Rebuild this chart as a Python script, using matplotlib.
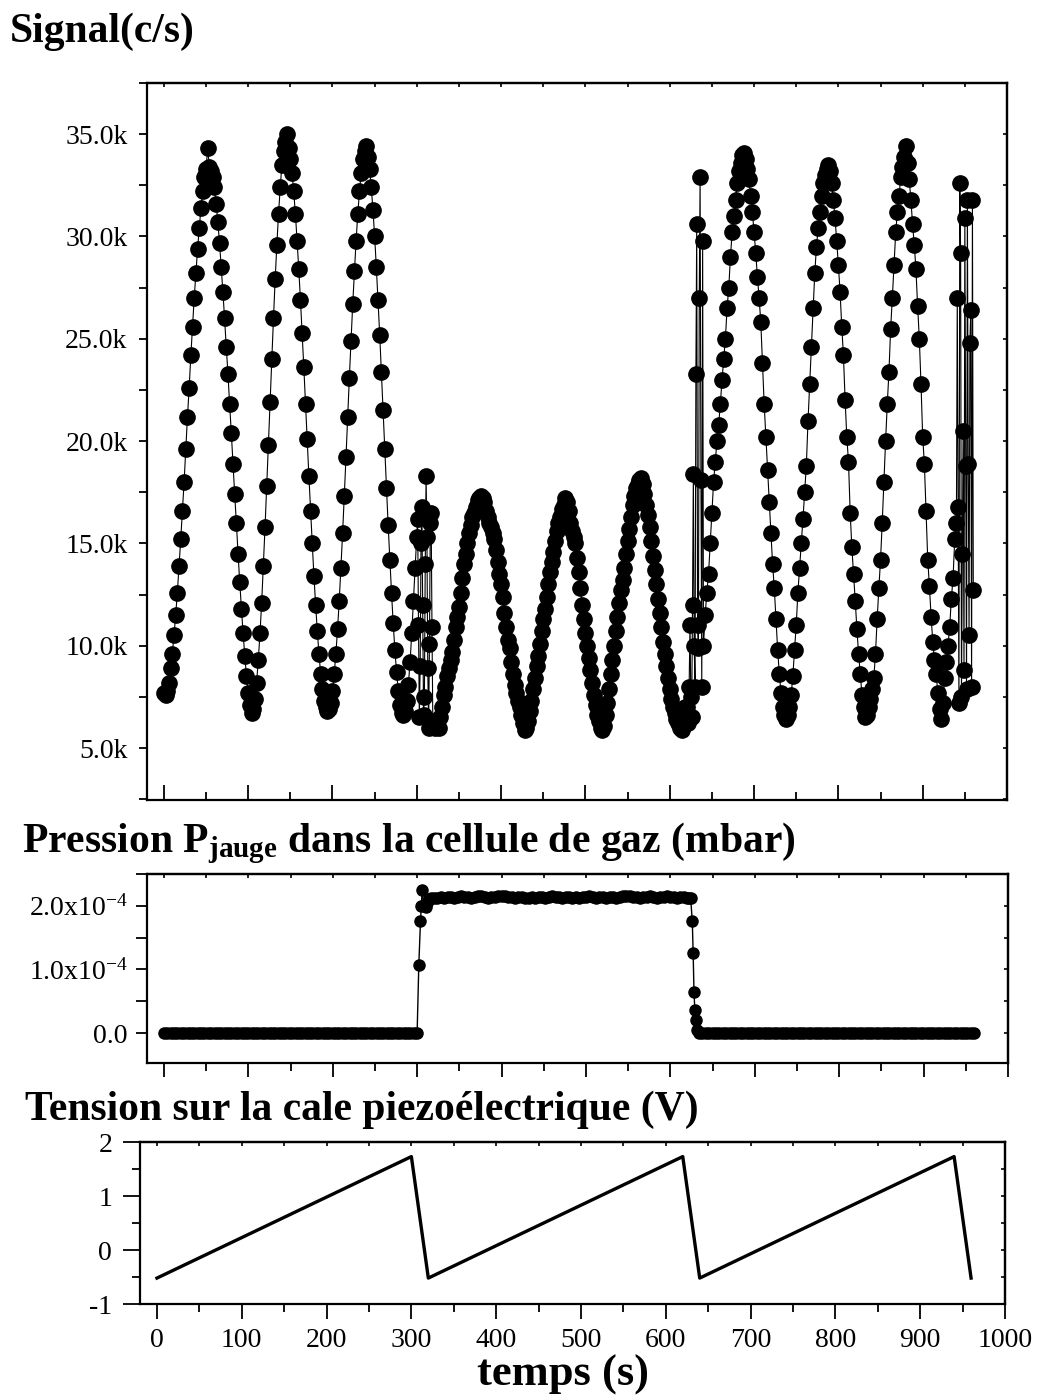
import numpy as np
import matplotlib.pyplot as plt
from matplotlib.ticker import MultipleLocator, FuncFormatter, NullFormatter

plt.rcParams['font.family'] = 'Liberation Serif'
plt.rcParams['mathtext.fontset'] = 'custom'
plt.rcParams['mathtext.rm'] = 'Liberation Serif'
plt.rcParams['mathtext.bf'] = 'Liberation Serif:bold'
plt.rcParams['mathtext.it'] = 'Liberation Serif:italic'
plt.rcParams['axes.unicode_minus'] = False

# --------------------------
# Signal (in k c/s) - ramps every 2 s, fly-backs every 1 s
# --------------------------
sig_ramp1 = [7.7, 7.6, 7.8, 8.2, 8.9, 9.6, 10.5, 11.5, 12.6, 13.9,
             15.2, 16.6, 18.0, 19.6, 21.2, 22.6, 24.2, 25.6, 27.0, 28.2,
             29.4, 30.4, 31.4, 32.2, 32.9, 33.3, 34.3, 33.4, 33.2, 32.9,
             32.4, 31.6, 30.7, 29.7, 28.5, 27.3, 26.0, 24.6, 23.3, 21.8,
             20.4, 18.9, 17.4, 16.0, 14.5, 13.1, 11.8, 10.6, 9.5, 8.5,
             7.7, 7.1, 6.7, 6.9, 7.4, 8.2, 9.3, 10.6, 12.1, 13.9,
             15.8, 17.8, 19.8, 21.9, 24.0, 26.0, 27.9, 29.6, 31.1, 32.4,
             33.5, 34.2, 34.6, 35.0, 34.3, 33.8, 33.1, 32.2, 31.1, 29.8,
             28.4, 26.9, 25.3, 23.6, 21.8, 20.1, 18.3, 16.6, 15.0, 13.4,
             12.0, 10.7, 9.6, 8.6, 7.9, 7.3, 7.0, 6.8, 6.9, 7.2,
             7.8, 8.6, 9.6, 10.8, 12.2, 13.8, 15.5, 17.3, 19.2, 21.2,
             23.1, 24.9, 26.7, 28.3, 29.8, 31.1, 32.2, 33.1, 33.8, 34.2,
             34.4, 33.9, 33.3, 32.4, 31.3, 30.0, 28.5, 26.9, 25.2, 23.4,
             21.5, 19.6, 17.7, 15.9, 14.2, 12.6, 11.1, 9.8, 8.7, 7.8,
             7.1, 6.7, 6.6, 6.8, 7.3, 8.1, 9.2, 10.6, 12.2, 13.8]
sig_fly1 = [15.3, 16.2, 11.0, 6.5, 9.0, 15.0, 16.8, 12.0, 6.6, 7.5,
            14.0, 18.3, 15.3, 8.9, 6.0, 10.1, 16.0, 16.5, 10.9, 6.2]
sig_ramp2 = [6.3, 6.0, 6.1, 6.0, 6.5, 7.0, 7.6, 8.0, 8.5, 8.9,
             9.3, 9.7, 10.3, 10.9, 11.4, 11.9, 12.6, 13.3, 14.0, 14.5,
             15.0, 15.5, 15.9, 16.3, 16.5, 16.8, 17.1, 17.2, 17.3, 17.2,
             17.0, 16.6, 16.3, 16.0, 15.8, 15.5, 15.2, 14.7, 14.1, 13.5,
             13.0, 12.4, 11.6, 10.9, 10.3, 9.9, 9.2, 8.6, 8.1, 7.7,
             7.3, 7.0, 6.6, 6.2, 5.9, 6.0, 6.3, 6.8, 7.3, 7.9,
             8.4, 9.0, 9.5, 10.1, 10.7, 11.3, 11.8, 12.4, 13.0, 13.6,
             14.1, 14.6, 15.1, 15.6, 16.0, 16.3, 16.7, 16.9, 17.2, 17.0,
             16.6, 16.0, 15.6, 15.3, 15.0, 14.3, 13.6, 12.8, 12.0, 11.3,
             10.6, 10.0, 9.4, 8.8, 8.2, 7.6, 7.1, 6.6, 6.3, 6.0,
             5.9, 6.1, 6.6, 7.2, 7.9, 8.6, 9.3, 10.0, 10.7, 11.4,
             12.1, 12.7, 13.2, 13.8, 14.5, 15.1, 15.7, 16.3, 16.9, 17.3,
             17.7, 17.9, 18.1, 18.2, 17.9, 17.4, 16.9, 16.4, 15.8, 15.1,
             14.4, 13.7, 13.0, 12.3, 11.6, 10.9, 10.2, 9.6, 9.0, 8.4,
             7.9, 7.4, 7.0, 6.7, 6.4, 6.2, 6.0, 5.9, 6.4, 7.0]
sig_fly2 = [7.0, 6.4, 6.2, 8.0, 11.0, 7.5, 6.5, 12.0, 18.4, 10.0,
            8.0, 23.3, 30.6, 11.0, 9.9, 27.0, 32.9, 18.1, 8.0, 29.8]
sig_ramp3 = [10.0, 11.5, 12.6, 13.5, 15.0, 16.5, 18.0, 19.0, 20.0, 20.8,
             21.8, 23.0, 24.0, 25.0, 26.5, 27.5, 29.0, 30.2, 31.0, 31.8,
             32.6, 33.2, 33.6, 34.0, 34.1, 33.8, 33.3, 32.8, 32.0, 31.2,
             30.2, 29.2, 28.0, 27.0, 25.8, 23.8, 21.8, 20.2, 18.6, 17.0,
             15.5, 14.0, 12.8, 11.3, 9.8, 8.6, 7.7, 7.0, 6.6, 6.4,
             6.6, 7.0, 7.6, 8.5, 9.8, 11.0, 12.6, 13.8, 15.0, 16.2,
             17.5, 18.8, 21.0, 22.8, 24.6, 26.5, 28.2, 29.5, 30.4, 31.2,
             32.0, 32.6, 33.0, 33.3, 33.5, 33.2, 32.6, 31.8, 30.9, 29.8,
             28.6, 27.3, 25.6, 24.2, 22.0, 20.2, 19.0, 16.5, 14.8, 13.5,
             12.2, 10.8, 9.6, 8.6, 7.6, 7.0, 6.5, 6.6, 7.0, 7.4,
             7.9, 8.4, 9.6, 11.3, 12.8, 14.2, 16.0, 18.0, 20.0, 21.8,
             23.4, 25.5, 27.0, 28.6, 30.2, 31.2, 32.0, 32.9, 33.4, 33.9,
             34.4, 33.6, 32.8, 31.8, 30.6, 29.6, 28.4, 26.6, 25.0, 22.8,
             20.2, 18.9, 16.6, 14.2, 12.9, 11.4, 10.2, 9.3, 8.6, 7.7,
             6.9, 6.4, 7.2, 8.4, 9.2, 10.0, 10.9, 12.3, 13.3, 15.2]
sig_fly3 = [16.0, 27.0, 16.8, 7.2, 32.6, 29.2, 7.5, 14.5, 20.5, 8.8,
            30.9, 18.8, 7.9, 31.8, 18.9, 10.5, 24.8, 26.4, 8.0, 31.8, 12.7]

t_sig = np.concatenate([
    np.linspace(0, 298, len(sig_ramp1)),
    np.linspace(300, 319, len(sig_fly1)),
    np.linspace(320, 618, len(sig_ramp2)),
    np.linspace(620, 639, len(sig_fly2)),
    np.linspace(640, 938, len(sig_ramp3)),
    np.linspace(940, 960, len(sig_fly3)),
])
signal = np.concatenate([sig_ramp1, sig_fly1, sig_ramp2, sig_fly2, sig_ramp3, sig_fly3])

# --------------------------
# Pressure (x1e-4 mbar)
# --------------------------
p_off1 = [0.0] * 76                       # t = 0 .. 300, every 4 s
t_rise = [302, 304, 305, 306, 308, 310, 312, 314]
p_rise = [1.07, 1.76, 1.99, 2.25, 2.02, 1.98, 2.05, 2.10]
p_on = [2.12, 2.13, 2.13, 2.14, 2.13, 2.14, 2.14, 2.13, 2.14, 2.15,
        2.14, 2.14, 2.13, 2.14, 2.15, 2.15, 2.14, 2.13, 2.14, 2.14,
        2.15, 2.16, 2.15, 2.14, 2.14, 2.13, 2.14, 2.14, 2.13, 2.13,
        2.14, 2.13, 2.14, 2.14, 2.13, 2.14, 2.15, 2.14, 2.14, 2.13,
        2.14, 2.14, 2.13, 2.14, 2.13, 2.14, 2.14, 2.15, 2.14, 2.13,
        2.14, 2.14, 2.13, 2.14, 2.14, 2.13, 2.14, 2.15, 2.16, 2.15,
        2.14, 2.14, 2.13, 2.14, 2.14, 2.15, 2.14, 2.13, 2.14, 2.14,
        2.15, 2.14, 2.14, 2.13, 2.14, 2.14, 2.13]   # t = 316 .. 620
t_fall = [622, 624, 626, 627, 628, 629, 630, 632]
p_fall = [2.13, 2.12, 1.76, 1.26, 0.65, 0.36, 0.20, 0.05]
p_off2 = [0.0] * 82                       # t = 634 .. 960

t_p = np.concatenate([np.linspace(0, 300, len(p_off1)), t_rise,
                      np.linspace(316, 620, len(p_on)), t_fall,
                      np.linspace(634, 960, len(p_off2))])
pressure = np.concatenate([p_off1, p_rise, p_on, p_fall, p_off2]) * 1e-4

# --------------------------
# Piezo voltage (V)
# --------------------------
t_piezo = [0, 300, 320, 620, 640, 940, 960]
v_piezo = [-0.52, 1.73, -0.52, 1.73, -0.52, 1.73, -0.52]

W, H = 1038, 1398
fig = plt.figure(figsize=(W / 100, H / 100), dpi=100)


def box(l, t, r, b):
    return [l / W, 1 - b / H, (r - l) / W, (b - t) / H]


def small_inner_ticks(ax, xstep, ystep):
    top = ax.secondary_xaxis('top')
    top.xaxis.set_major_locator(MultipleLocator(xstep))
    top.xaxis.set_major_formatter(NullFormatter())
    top.tick_params(direction='in', length=3, width=1.2)
    right = ax.secondary_yaxis('right')
    right.yaxis.set_major_locator(MultipleLocator(ystep))
    right.yaxis.set_major_formatter(NullFormatter())
    right.tick_params(direction='in', length=3, width=1.2)
    for s in ['top', 'right']:
        top.spines[s].set_linewidth(1.6)
        right.spines[s].set_linewidth(1.6)


ax1 = fig.add_axes(box(147, 83, 1007, 800))
ax2 = fig.add_axes(box(147, 874, 1008, 1063))
ax3 = fig.add_axes(box(140, 1142, 1005, 1304))

for ax in (ax1, ax2, ax3):
    for s in ax.spines.values():
        s.set_linewidth(1.6)
    ax.set_xlim(-20, 1000)
    ax.xaxis.set_major_locator(MultipleLocator(100))
    ax.xaxis.set_minor_locator(MultipleLocator(50))

# --------------------------
# 1. Signal
# --------------------------
ax1.plot(t_sig, signal, '-o', color='black', lw=0.8, ms=11)
ax1.set_ylim(2.46, 37.5)
ax1.yaxis.set_major_locator(MultipleLocator(5))
ax1.yaxis.set_minor_locator(MultipleLocator(2.5))
ax1.yaxis.set_major_formatter(FuncFormatter(lambda v, p: f"{v:.1f}k"))
ax1.tick_params(axis='x', which='major', direction='in', length=11, width=1.3, labelbottom=False)
ax1.tick_params(axis='x', which='minor', direction='in', length=6, width=1.3)
ax1.tick_params(axis='y', which='both', direction='out', length=6, width=1.3, labelsize=20, pad=8)
small_inner_ticks(ax1, 50, 2.5)

# --------------------------
# 2. Pressure
# --------------------------
ax2.plot(t_p, pressure, '-o', color='black', lw=1.0, ms=8)
ax2.set_ylim(-0.47e-4, 2.5e-4)
ax2.set_yticks([0, 1e-4, 2e-4])
ax2.set_yticklabels(['0.0', r'1.0x10$^{-4}$', r'2.0x10$^{-4}$'])
ax2.yaxis.set_minor_locator(MultipleLocator(0.5e-4))
ax2.tick_params(axis='x', which='major', direction='out', length=10, width=1.3, labelbottom=False)
ax2.tick_params(axis='x', which='minor', direction='out', length=6, width=1.3)
ax2.tick_params(axis='y', which='both', direction='out', length=8, width=1.3, labelsize=20, pad=6)
small_inner_ticks(ax2, 50, 0.5e-4)

# --------------------------
# 3. Piezo voltage
# --------------------------
ax3.plot(t_piezo, v_piezo, color='black', lw=2.4)
ax3.set_ylim(-1, 2)
ax3.yaxis.set_major_locator(MultipleLocator(1))
ax3.yaxis.set_minor_locator(MultipleLocator(0.5))
ax3.tick_params(axis='x', which='major', direction='out', length=11, width=1.3, labelsize=20, pad=6)
ax3.tick_params(axis='x', which='minor', direction='out', length=6, width=1.3)
ax3.tick_params(axis='y', which='major', direction='out', length=12, width=1.3, labelsize=20, pad=8)
ax3.tick_params(axis='y', which='minor', direction='out', length=6, width=1.3)
small_inner_ticks(ax3, 50, 0.5)

# --------------------------
# Titles
# --------------------------
fig.text(10 / W, 1 - 42 / H, "Signal(c/s)", fontsize=30, fontweight='bold', va='baseline')
fig.text(22 / W, 1 - 852 / H, r"Pression P$_{\mathbf{jauge}}$ dans la cellule de gaz (mbar)",
         fontsize=30, fontweight='bold', va='baseline')
fig.text(25 / W, 1 - 1120 / H, "Tension sur la cale piezoélectrique (V)",
         fontsize=30, fontweight='bold', va='baseline')
fig.text(563 / W, 1 - 1386 / H, "temps (s)", fontsize=32, fontweight='bold',
         ha='center', va='baseline')

fig.savefig("out.png", dpi=100)
